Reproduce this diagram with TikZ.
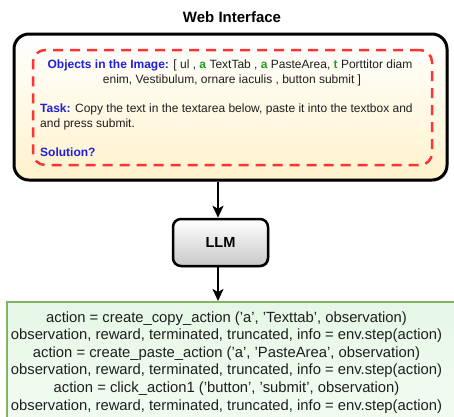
\documentclass[tikz,border=0pt]{standalone}
\usepackage{fontspec}
\setmainfont{Liberation Sans}
\usetikzlibrary{arrows.meta,shadows}

\definecolor{ink}{HTML}{1E1E1E}
\definecolor{kwblue}{HTML}{1F1FD6}
\definecolor{kwgreen}{HTML}{1E9E1E}
\definecolor{dashred}{HTML}{FF3333}
\definecolor{paleyellow}{HTML}{FFF2CC}
\definecolor{llmgray}{HTML}{C8C8C8}
\definecolor{codegreen}{HTML}{82B366}
\definecolor{codetop}{HTML}{E6F7E6}
\definecolor{codebottom}{HTML}{F4FDF4}

\tikzset{
  webbox/.style={draw=black, line width=3pt, rounded corners=15pt,
    top color=white, bottom color=paleyellow,
    drop shadow={shadow xshift=1.5pt, shadow yshift=-1.5pt, opacity=0.35}},
  promptbox/.style={draw=dashred, line width=2.5pt, rounded corners=12pt,
    dash pattern=on 10pt off 7pt},
  llmbox/.style={draw=black, line width=2.5pt, rounded corners=8pt,
    top color=white, bottom color=llmgray,
    drop shadow={shadow xshift=1.5pt, shadow yshift=-1.5pt, opacity=0.3}},
  codebox/.style={draw=codegreen, line width=2pt,
    top color=codetop, bottom color=codebottom},
  flow/.style={line width=2.5pt, -{Stealth[length=12pt,width=11pt,inset=3pt]}},
  ptext/.style={anchor=base, inner sep=0pt, text=ink,
    font=\fontsize{12}{15}\selectfont},
  ctext/.style={anchor=base, inner sep=0pt, text=ink,
    font=\fontsize{14.8}{17.6}\selectfont},
}
\newcommand{\kw}[1]{\textcolor{kwblue}{\textbf{#1}}}
\newcommand{\gm}[1]{\textcolor{kwgreen}{\textbf{#1}}}

\begin{document}
\begin{tikzpicture}[x=1pt,y=-1pt]
  \useasboundingbox (0,0) rectangle (454,416);

  % title
  \node[anchor=base, inner sep=0pt, font=\fontsize{15}{18}\selectfont\bfseries]
    (title) at (232,22.5) {Web Interface};

  % web interface panel with the prompt inside
  \node[webbox, minimum width=433pt, minimum height=146pt] (web) at (230.5,107) {};
  \node[promptbox, minimum width=399pt, minimum height=115pt] (prompt) at (232.5,107.5) {};

  \node[ptext] (obj1) at (230,68)
    {\kw{Objects in the Image:} [ ul , \gm{a} TextTab , \gm{a} PasteArea, \gm{t} Porttitor diam};
  \node[ptext] (obj2) at (232,83)
    {enim, Vestibulum, ornare iaculis , button submit ]};
  \node[ptext, anchor=base west] (task1) at (40,112.5)
    {\kw{Task:} Copy the text in the textarea below, paste it into the textbox and};
  \node[ptext, anchor=base west] (task2) at (40,127)
    {and press submit.};
  \node[ptext, anchor=base west] (sol) at (40,156)
    {\kw{Solution?}};

  % language model
  \node[llmbox, minimum width=95pt, minimum height=47pt,
        font=\fontsize{14.6}{17}\selectfont\bfseries] (llm) at (220.5,242.5) {LLM};

  % generated action code
  \node[codebox, minimum width=463pt, minimum height=140pt] (code) at (238.5,372) {};
  \node[ctext] (c1) at (226.5,322)   {action = create\_copy\_action ('a', 'Texttab', observation)};
  \node[ctext] (c2) at (226.5,339.6) {observation, reward, terminated, truncated, info = env.step(action)};
  \node[ctext] (c3) at (226.5,357.2) {action = create\_paste\_action ('a', 'PasteArea', observation)};
  \node[ctext] (c4) at (226.5,374.8) {observation, reward, terminated, truncated, info = env.step(action)};
  \node[ctext] (c5) at (226.5,392.4) {action = click\_action1 ('button', 'submit', observation)};
  \node[ctext] (c6) at (226.5,410)   {observation, reward, terminated, truncated, info = env.step(action)};

  % connectors
  \draw[flow] ([xshift=-2.5pt]llm.north |- web.south) -- ([xshift=-2.5pt]llm.north);
  \draw[flow] ([xshift=-2.5pt]llm.south) -- ([xshift=-2.5pt]llm.south |- code.north);
\end{tikzpicture}
\end{document}
